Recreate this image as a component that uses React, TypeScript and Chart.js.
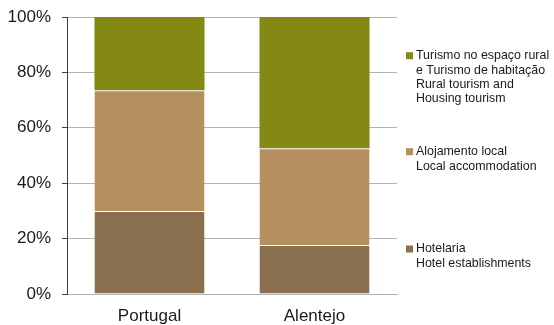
import React, { useEffect, useRef } from "react";
import { Chart, registerables } from "chart.js";

Chart.register(...registerables);

const categories = ["Portugal", "Alentejo"];
const hotelValues = [30.0, 17.7];
const localValues = [43.6, 34.9];
const ruralValues = [26.4, 47.4];
const yTicks = [0, 20, 40, 60, 80, 100];

const hotelLabel = ["Hotelaria", "Hotel establishments"];
const localLabel = ["Alojamento local", "Local accommodation"];
const ruralLabel = [
  "Turismo no espaço rural",
  "e Turismo de habitação",
  "Rural tourism and",
  "Housing tourism",
];

const FONT = "'Liberation Sans', Arial, sans-serif";

const legendPlugin = {
  id: "sideLegend",
  afterDraw(chart: any) {
    const ctx = chart.ctx;
    const items = [
      { ds: 2, y: 55.7 },
      { ds: 1, y: 151.7 },
      { ds: 0, y: 249 },
    ];
    ctx.save();
    ctx.font = `12.4px ${FONT}`;
    ctx.textBaseline = "middle";
    ctx.textAlign = "left";
    for (const it of items) {
      const ds = chart.data.datasets[it.ds];
      const lines: string[] = ds.label.split("\n");
      ctx.fillStyle = ds.backgroundColor;
      ctx.fillRect(406, it.y - 3.5, 7, 7);
      ctx.fillStyle = "#1a1a1a";
      lines.forEach((ln, i) => ctx.fillText(ln, 416, it.y + i * 14.4));
    }
    ctx.restore();
  },
};

export default function App() {
  const ref = useRef<HTMLCanvasElement>(null);
  useEffect(() => {
    const chart = new Chart(ref.current!, {
      type: "bar",
      data: {
        labels: categories,
        datasets: [
          {
            label: hotelLabel.join("\n"),
            data: hotelValues,
            backgroundColor: "#8B7050",
            borderColor: "rgba(255,255,255,0.25)",
            borderWidth: { top: 1 },
            borderSkipped: false,
          },
          {
            label: localLabel.join("\n"),
            data: localValues,
            backgroundColor: "#B58F5E",
            borderColor: "rgba(255,255,255,0.25)",
            borderWidth: { top: 1 },
            borderSkipped: false,
          },
          {
            label: ruralLabel.join("\n"),
            data: ruralValues,
            backgroundColor: "#848914",
            borderWidth: 0,
          },
        ] as any,
      },
      options: {
        animation: false,
        responsive: true,
        maintainAspectRatio: false,
        layout: { padding: { left: 0, right: 157, top: 0, bottom: 0 } },
        datasets: { bar: { barPercentage: 0.667, categoryPercentage: 1 } } as any,
        plugins: { legend: { display: false }, tooltip: { enabled: false } },
        scales: {
          x: {
            stacked: true,
            grid: { display: false },
            border: { display: true, color: "#b3b3b3" },
            ticks: { font: { family: FONT, size: 17 }, color: "#1a1a1a", padding: 4 },
            afterFit: (s: any) => { s.height = 31; },
          },
          y: {
            stacked: true,
            min: 0,
            max: 100,
            afterBuildTicks: (s: any) => { s.ticks = yTicks.map((v) => ({ value: v })); },
            grid: { color: "#b3b3b3", tickColor: "#404040", tickLength: 5, lineWidth: 1 },
            border: { display: true, color: "#404040" },
            ticks: {
              font: { family: FONT, size: 17 },
              color: "#1a1a1a",
              padding: 11,
              callback: (v: any) => v + "%",
            },
            afterFit: (s: any) => {
              s.width = 67;
              s.paddingTop = 17;
              s.paddingBottom = 0;
            },
          },
        },
      },
      plugins: [legendPlugin],
    });
    return () => chart.destroy();
  }, []);
  return (
    <div style={{ position: "fixed", left: 0, top: 0, width: 554, height: 325, background: "#fff" }}>
      <canvas ref={ref} />
    </div>
  );
}
